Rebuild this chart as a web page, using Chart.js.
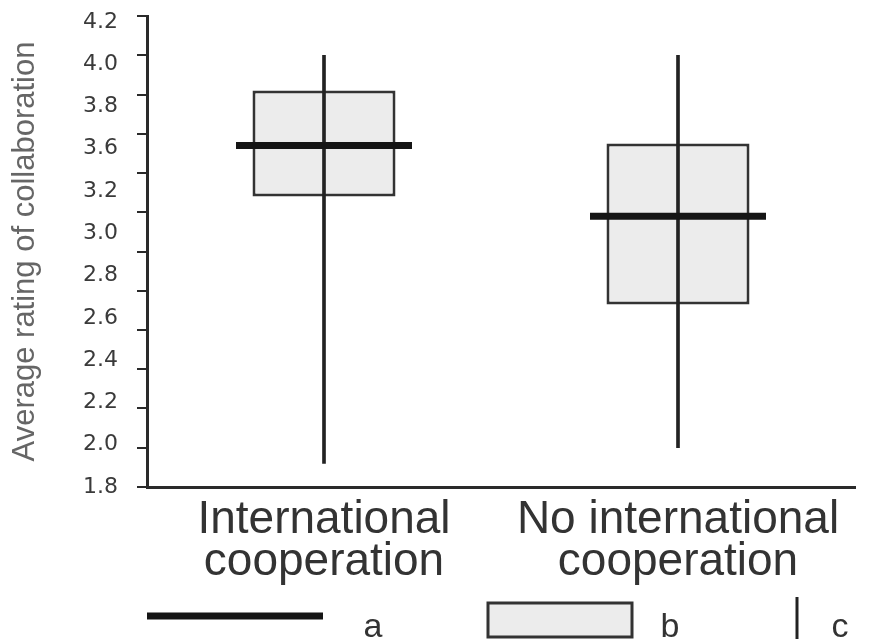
<!DOCTYPE html>
<html><head><meta charset="utf-8">
<script src="https://cdn.jsdelivr.net/npm/chart.js@4.4.1/dist/chart.umd.min.js"></script>
<style>html,body{margin:0;padding:0;background:#fff}#wrap{width:870px;height:639px}</style>
</head><body><div id="wrap"><canvas id="c" width="870" height="639"></canvas></div>
<script>
// ---- data ----
const categories = [['International', 'cooperation'], ['No international', 'cooperation']];
const whiskerLow = [1.92, 2.0];
const whiskerHigh = [4.0, 4.0];
const boxLow = [3.28, 2.73];
const boxHigh = [3.82, 3.55];
const medians = [3.54, 3.18];
const yTickValues = [1.8, 2.0, 2.2, 2.4, 2.6, 2.8, 3.0, 3.2, 3.4, 3.6, 3.8, 4.0, 4.2];
const yTickLabels = ['1.8', '2.0', '2.2', '2.4', '2.6', '2.8', '3.0', '3.2', '3.6', '3.8', '4.0', '4.2'];
const legendLabels = ['a', 'b', 'c'];
const yTitle = 'Average rating of collaboration';

const AX = '#2a2a2a';
const BOX_FILL = '#ececec';

const legendPlugin = {
  id: 'customLegend',
  afterDraw(chart) {
    const {ctx, chartArea: ca} = chart;
    const H = chart.height;
    const yMid = H - 23;
    ctx.save();
    ctx.font = '34px "Liberation Sans", Arial, sans-serif';
    ctx.fillStyle = '#333';
    ctx.textAlign = 'center';
    ctx.textBaseline = 'alphabetic';
    // a : median line
    ctx.strokeStyle = '#151515';
    ctx.lineWidth = 7;
    ctx.beginPath();
    ctx.moveTo(ca.left, yMid);
    ctx.lineTo(ca.left + 176, yMid);
    ctx.stroke();
    ctx.fillText(legendLabels[0], ca.left + 226, H - 2);
    // b : box
    const bx = ca.left + 341;
    ctx.fillStyle = BOX_FILL;
    ctx.fillRect(bx, H - 36, 144, 34);
    ctx.strokeStyle = '#333';
    ctx.lineWidth = 3;
    ctx.strokeRect(bx, H - 36, 144, 34);
    ctx.fillStyle = '#333';
    ctx.fillText(legendLabels[1], bx + 182, H - 2);
    // c : whisker
    const cx = ca.left + 650;
    ctx.strokeStyle = '#222';
    ctx.lineWidth = 3;
    ctx.beginPath();
    ctx.moveTo(cx, H - 42);
    ctx.lineTo(cx, H);
    ctx.stroke();
    ctx.fillText(legendLabels[2], cx + 43, H - 2);
    ctx.restore();
  }
};

new Chart(document.getElementById('c'), {
  data: {
    labels: categories,
    datasets: [
      {
        type: 'line',
        label: 'a',
        data: medians,
        showLine: false,
        pointStyle: 'line',
        pointRadius: 88,
        pointHoverRadius: 88,
        pointBorderWidth: 7,
        pointHoverBorderWidth: 7,
        borderColor: '#151515',
        backgroundColor: '#151515',
        clip: false,
        yAxisID: 'y',
        order: 1
      },
      {
        type: 'bar',
        label: 'c',
        data: whiskerLow.map((v, i) => [v, whiskerHigh[i]]),
        backgroundColor: '#222',
        borderWidth: 0,
        barThickness: 3,
        grouped: false,
        yAxisID: 'y',
        order: 2
      },
      {
        type: 'bar',
        label: 'b',
        data: boxLow.map((v, i) => [v, boxHigh[i]]),
        backgroundColor: BOX_FILL,
        borderColor: '#333',
        borderWidth: 3,
        borderSkipped: false,
        barPercentage: 0.404,
        categoryPercentage: 1,
        grouped: false,
        yAxisID: 'y',
        order: 3
      }
    ]
  },
  options: {
    responsive: false,
    animation: false,
    layout: {autoPadding: false, padding: {top: 16, right: 15, left: 0, bottom: 0}},
    plugins: {legend: {display: false}, tooltip: {enabled: false}},
    scales: {
      x: {
        type: 'category',
        offset: true,
        grid: {display: false, drawTicks: false},
        border: {display: true, color: AX, width: 3},
        ticks: {
          color: '#333',
          padding: 13,
          maxRotation: 0,
          autoSkip: false,
          font: {family: '"Liberation Sans", Arial, sans-serif', size: 46, lineHeight: 0.9}
        },
        afterFit: s => { s.height = 152; }
      },
      y: {
        type: 'linear',
        position: 'left',
        weight: 0,
        min: 1.8,
        max: 4.2,
        afterBuildTicks: s => { s.ticks = yTickValues.map(v => ({value: v})); },
        ticks: {display: false},
        grid: {drawOnChartArea: false, drawTicks: true, tickLength: 10, lineWidth: 2, color: AX},
        border: {display: true, color: AX, width: 3},
        afterFit: s => { s.width = 10; }
      },
      yl: {
        type: 'linear',
        position: 'left',
        weight: 1,
        min: 1.8,
        max: 4.23,
        afterBuildTicks: s => {
          s.ticks = yTickLabels.map((_, i) => ({value: 1.8 + i * (4.2 - 1.8) / (yTickLabels.length - 1)}));
        },
        ticks: {
          autoSkip: false,
          padding: 0,
          color: '#3a3a3a',
          font: {family: '"DejaVu Sans", sans-serif', size: 22},
          callback: (v, i) => yTickLabels[i]
        },
        grid: {display: false, drawOnChartArea: false, drawTicks: true, tickLength: 19},
        border: {display: false},
        title: {
          display: true,
          text: yTitle,
          color: '#666',
          padding: {top: 7, bottom: 0},
          font: {family: '"Liberation Sans", Arial, sans-serif', size: 31}
        },
        afterFit: s => { s.width = 137; }
      }
    }
  },
  plugins: [legendPlugin]
});
</script>
</body></html>
